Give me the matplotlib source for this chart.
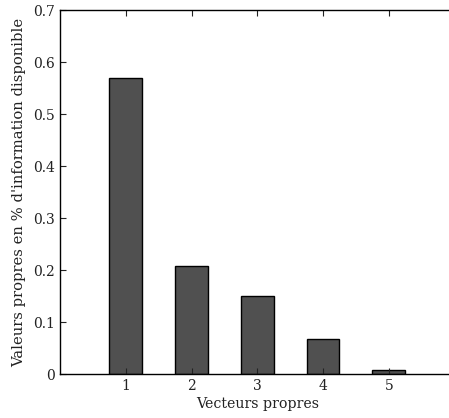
import matplotlib
matplotlib.use("Agg")
import matplotlib.pyplot as plt

categories = [1, 2, 3, 4, 5]
values = [0.569, 0.207, 0.150, 0.068, 0.008]
yticks = [0, 0.1, 0.2, 0.3, 0.4, 0.5, 0.6, 0.7]
ytick_labels = ["0", "0.1", "0.2", "0.3", "0.4", "0.5", "0.6", "0.7"]

plt.rcParams['font.family'] = ['DejaVu Serif']

fig = plt.figure(figsize=(4.49, 4.18), dpi=100)
ax = fig.add_axes([60/449, 44/418, 394.5/449, 364/418])
ax.bar(categories, values, width=0.5, color="#505050", edgecolor="black", linewidth=1.0)
ax.set_xlim(0, 6)
ax.set_ylim(0, 0.7)
ax.set_xticks(categories)
ax.set_xticklabels([str(c) for c in categories])
ax.set_yticks(yticks)
ax.set_yticklabels(ytick_labels)
ax.tick_params(direction="in", top=True, right=True, length=4, labelsize=10, colors="#222222")
for s in ax.spines.values():
    s.set_linewidth(1.0)
ax.set_xlabel("Vecteurs propres", fontsize=10.2, labelpad=3, color="#222222")
ax.set_ylabel("Valeurs propres en % d'information disponible", fontsize=10.6, labelpad=5, color="#222222")
fig.savefig("out.png", dpi=100)
